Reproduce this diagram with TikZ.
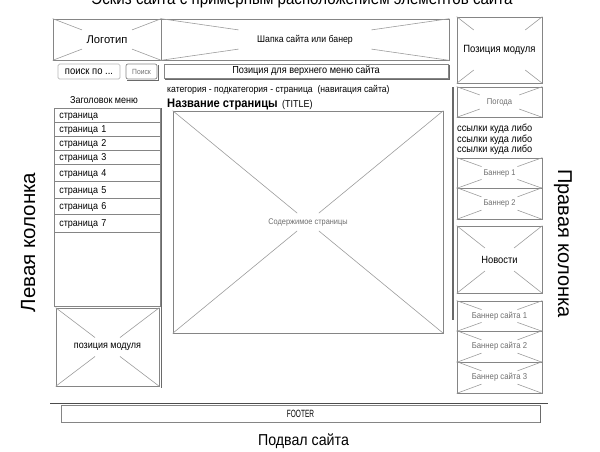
\documentclass[tikz,border=0pt]{standalone}
\usepackage{fontspec}
\setmainfont{Liberation Sans}[FakeStretch=0.9]
\newfontfamily\plainfont{Liberation Sans}
\usetikzlibrary{calc}
\definecolor{bline}{HTML}{858585}
\definecolor{xln}{HTML}{9C9C9C}
\definecolor{lbl}{HTML}{6E6E6E}
\definecolor{shd}{HTML}{6A6A6A}
\newcommand\fsz[1]{\fontsize{#1}{#1}\selectfont}
\newcommand\xcr[2]{%
  \draw[xline] (#1.north west) -- ($(#1.north west)!#2!(#1.south east)$);
  \draw[xline] (#1.south east) -- ($(#1.south east)!#2!(#1.north west)$);
  \draw[xline] (#1.north east) -- ($(#1.north east)!#2!(#1.south west)$);
  \draw[xline] (#1.south west) -- ($(#1.south west)!#2!(#1.north east)$);}
% \bx{options}{name}{x1}{y1}{x2}{y2}{text}
\newcommand\bx[7]{%
  \node[box, #1, minimum width={(#5-#3)*1pt}, minimum height={(#6-#4)*1pt}] (#2)
    at ({(#3+#5)/2},{(#4+#6)/2}) {#7};}
\begin{document}
\begin{tikzpicture}[x=1pt,y=-1pt,
  box/.style={draw=bline, line width=0.7pt, inner sep=0pt},
  xline/.style={draw=xln, line width=0.6pt},
  row/.style={draw=bline, line width=0.6pt, anchor=north west, minimum width=106pt,
    text width=96pt, inner xsep=5pt, inner ysep=0pt, align=left, font=\fsz{10},
    text height=6.5pt, text depth=0pt},
  shadowline/.style={draw=shd, line width=1pt},
  glabel/.style={text=lbl}]
\useasboundingbox (0,0) rectangle (600,451);

% title (cut at top, as in the reference)
\node[anchor=base, font=\fsz{16.8}] (title) at (302,4.5) {Эскиз сайта с примерным расположением элементов сайта};

% logo and header
\bx{font=\plainfont\fsz{11.2}}{logo}{53}{19}{161}{60}{Логотип}
\xcr{logo}{0.27}
\bx{font=\fsz{9.7}}{head}{161}{19}{449}{60}{Шапка сайта или банер}
\xcr{head}{0.27}

% right top module
\bx{font=\fsz{10.5}}{modr}{457}{17}{542}{83}{Позиция модуля}
\xcr{modr}{0.2}

% search
\bx{draw=bline!60, rounded corners=1.5pt, font=\fsz{10.5}}{search}{58}{64}{120}{79}{поиск по ...}
\bx{rounded corners=2pt, font=\fsz{7.5}, glabel}{btn}{126}{64}{157}{79}{Поиск}
\coordinate (bs1) at (157.8,65); \coordinate (bs2) at (157.8,79.8); \coordinate (bs3) at (127,79.8);
\draw[shd, line width=0.6pt] (bs1) -- (bs2) -- (bs3);

% top menu bar
\bx{font=\fsz{10.2}}{tmenu}{164}{64}{448}{78}{Позиция для верхнего меню сайта}
\coordinate (ts1) at (449,64.5); \coordinate (ts2) at (449,79); \coordinate (ts3) at (164.5,79);
\draw[shd, line width=0.7pt] (ts1) -- (ts2) -- (ts3);

% breadcrumbs and title
\node[anchor=base west, font=\fsz{9.6}, inner sep=0pt] (crumbs) at (167,92) {категория - подкатегория - страница~~(навигация сайта)};
\node[anchor=base west, font=\bfseries\fsz{12.4}, inner sep=0pt] (ptitle) at (167,107) {Название страницы};
\node[anchor=base west, font=\fsz{10}, inner sep=0pt] (ptag) at ($(ptitle.base east)+(4,0)$) {(TITLE)};

% content
\bx{font=\fsz{8.2}, glabel}{content}{173}{111}{443}{333}{Содержимое страницы}
\xcr{content}{0.46}

% left menu
\node[font=\fsz{10}] (mtitle) at (104,100) {Заголовок меню};
\bx{}{menu}{54}{108}{160}{306}{}
\foreach \y/\h/\t [count=\i] in {108/14/страница,122/14/страница 1,136/14/страница 2,150/14/страница 3,164/17/страница 4,181/17/страница 5,198/16/страница 6,214/18/страница 7}
  \node[row, minimum height=\h pt] (m\i) at (54,\y) {\t};

% left module
\bx{font=\fsz{10}}{modl}{56}{308}{159}{386}{позиция модуля}
\xcr{modl}{0.38}
\coordinate (ls1) at (161.5,108); \coordinate (ls2) at (161.5,388);
\draw[shadowline] (ls1) -- (ls2);

% right column
\coordinate (rs1) at (453,87); \coordinate (rs2) at (453,320);
\draw[shd, line width=1.6pt] (rs1) -- (rs2);
\bx{font=\fsz{8.5}, glabel}{weather}{457}{87}{542}{117}{Погода}
\xcr{weather}{0.27}
\node[anchor=base west, font=\fsz{10.2}, inner sep=0pt] (l1) at (457,131.5) {ссылки куда либо};
\node[anchor=base west, font=\fsz{10.2}, inner sep=0pt] (l2) at (457,142) {ссылки куда либо};
\node[anchor=base west, font=\fsz{10.2}, inner sep=0pt] (l3) at (457,152.5) {ссылки куда либо};
\bx{font=\fsz{8.3}, glabel}{b1}{457}{158}{542}{188}{Баннер 1}
\xcr{b1}{0.29}
\bx{font=\fsz{8.3}, glabel}{b2}{457}{188}{542}{219}{Баннер 2}
\xcr{b2}{0.29}
\bx{font=\fsz{10.4}}{news}{457}{226}{542}{293}{Новости}
\xcr{news}{0.33}
\bx{font=\fsz{8.6}, glabel}{bsa}{457}{301}{542}{331}{Баннер сайта 1}
\xcr{bsa}{0.29}
\bx{font=\fsz{8.6}, glabel}{bsb}{457}{331}{542}{362}{Баннер сайта 2}
\xcr{bsb}{0.29}
\bx{font=\fsz{8.6}, glabel}{bsc}{457}{362}{542}{393}{Баннер сайта 3}
\xcr{bsc}{0.29}

% footer
\coordinate (fl1) at (50,403); \coordinate (fl2) at (548,403);
\draw[draw=black!70, line width=1pt] (fl1) -- (fl2);
\bx{}{footer}{61}{405}{540}{422}{\scalebox{0.62}[1]{\plainfont\fsz{10.5}FOOTER}}
\coordinate (fs1) at (540.8,405.5); \coordinate (fs2) at (540.8,422.5);
\draw[shd, line width=0.7pt] (fs1) -- (fs2);

% side and bottom labels
\node[anchor=base, rotate=90, font=\plainfont\fsz{20.5}, inner sep=0pt] (leftcol) at (35,242.5) {Левая колонка};
\node[anchor=base, rotate=-90, font=\plainfont\fsz{20}, inner sep=0pt] (rightcol) at (558,243.5) {Правая колонка};
\node[anchor=base, font=\fsz{15.8}, inner sep=0pt] (podval) at (303.5,445.5) {Подвал сайта};
\end{tikzpicture}
\end{document}
